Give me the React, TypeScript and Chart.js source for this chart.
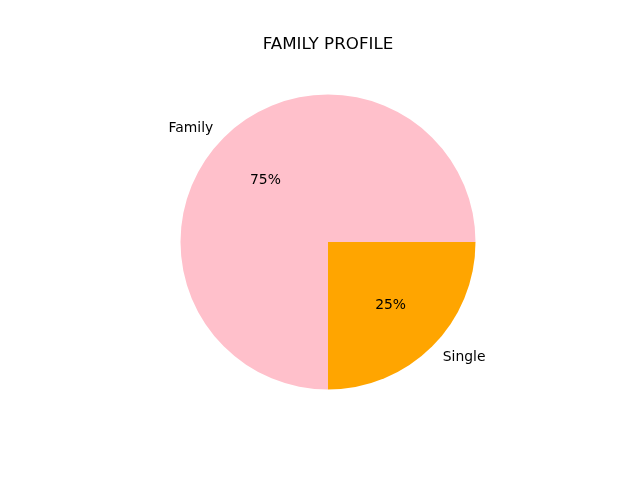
import React, { useEffect, useRef } from "react";
import { Chart, registerables } from "chart.js";

Chart.register(...registerables);

const categories = ["Single", "Family"];
const values = [25, 75];
const colors = ["#FFA500", "#FFC0CB"];
const title = "FAMILY PROFILE";

const labelPlugin = {
  id: "pieLabels",
  afterDraw(chart: any) {
    const ctx = chart.ctx;
    const meta = chart.getDatasetMeta(0);
    const total = values.reduce((a, b) => a + b, 0);
    ctx.save();
    ctx.fillStyle = "#000";
    ctx.textBaseline = "middle";
    meta.data.forEach((arc: any, i: number) => {
      const mid = (arc.startAngle + arc.endAngle) / 2;
      const r = arc.outerRadius;
      const cx = arc.x, cy = arc.y;
      const lx = cx + Math.cos(mid) * r * 1.1;
      const ly = cy + Math.sin(mid) * r * 1.1 + 1;
      ctx.font = "13.9px 'DejaVu Sans'";
      ctx.textAlign = Math.cos(mid) < 0 ? "right" : "left";
      ctx.fillText(categories[i], lx, ly);
      const px = cx + Math.cos(mid) * r * 0.6;
      const py = cy + Math.sin(mid) * r * 0.6 + 1;
      ctx.textAlign = "center";
      ctx.fillText(Math.round((values[i] / total) * 100) + "%", px, py);
    });
    const a = chart.chartArea;
    ctx.font = "16.7px 'DejaVu Sans'";
    ctx.textAlign = "center";
    ctx.textBaseline = "alphabetic";
    ctx.fillText(title, (a.left + a.right) / 2, 49);
    ctx.restore();
  },
};

export default function App() {
  const ref = useRef<HTMLCanvasElement>(null);
  useEffect(() => {
    if (!ref.current) return;
    const chart = new Chart(ref.current, {
      type: "pie",
      data: {
        labels: categories,
        datasets: [
          {
            data: values,
            backgroundColor: colors,
            borderWidth: 0,
          },
        ],
      },
      options: {
        responsive: false,
        animation: false,
        rotation: 90,
        layout: { padding: { left: 180.5, right: 164.5, top: 94.5, bottom: 90.5 } },
        plugins: {
          legend: { display: false },
          title: { display: false },
          tooltip: { enabled: false },
        },
      },
      plugins: [labelPlugin],
    });
    return () => chart.destroy();
  }, []);
  return (
    <div style={{ position: "fixed", left: 0, top: 0, width: 640, height: 480, background: "#fff" }}>
      <canvas ref={ref} width={640} height={480} style={{ width: 640, height: 480 }} />
    </div>
  );
}
